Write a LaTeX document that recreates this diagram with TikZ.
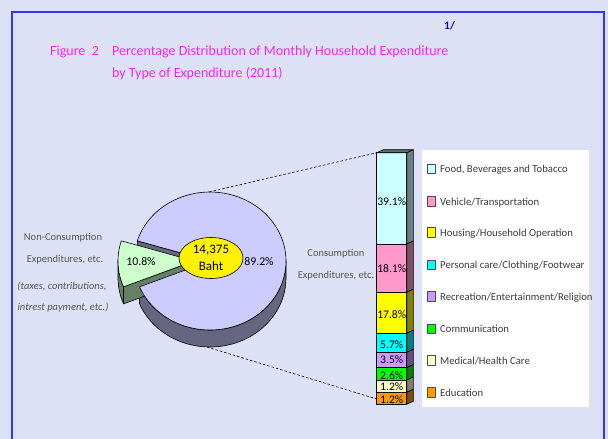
\documentclass[tikz,border=0pt]{standalone}
\usepackage{fontspec}
\setmainfont{Carlito}
\usepackage{tikz}
\usetikzlibrary{shapes.geometric}

\definecolor{paper}{RGB}{221,225,245}
\definecolor{framecol}{RGB}{51,51,255}
\definecolor{titlecol}{RGB}{240,40,240}
\definecolor{notecol}{RGB}{0,0,190}
\definecolor{greytext}{RGB}{85,85,85}
\definecolor{legtext}{RGB}{60,60,60}
\definecolor{pietop}{RGB}{204,204,255}
\definecolor{pieside}{RGB}{102,102,128}
\definecolor{wedgetop}{RGB}{204,255,204}
\definecolor{wedgeside}{RGB}{102,128,102}
\definecolor{foodc}{RGB}{204,255,255}
\definecolor{vehc}{RGB}{255,153,204}
\definecolor{housec}{RGB}{255,255,0}
\definecolor{persc}{RGB}{0,255,255}
\definecolor{recc}{RGB}{204,153,255}
\definecolor{commc}{RGB}{0,255,0}
\definecolor{medc}{RGB}{255,255,204}
\definecolor{educ}{RGB}{255,153,0}

\tikzset{
  edge/.style={draw=black, line width=0.6pt, line join=round},
  titletext/.style={anchor=base west, inner sep=0pt, text=titlecol,
    font=\fontsize{14}{16}\selectfont},
  sidetext/.style={anchor=base, inner sep=0pt, text=greytext,
    font=\fontsize{10.5}{12}\selectfont},
  pielab/.style={inner sep=0pt, font=\fontsize{11.8}{13}\selectfont},
  barlab/.style={inner sep=0pt, font=\fontsize{11.6}{13}\selectfont},
  legbox/.style={edge, line width=0.5pt, draw=black!70},
  legtxt/.style={anchor=base west, inner sep=0pt, text=legtext,
    font=\fontsize{10.7}{12}\selectfont}
}

\begin{document}
\begin{tikzpicture}[x=1pt,y=-1pt]
\fill[paper] (0,0) rectangle (608,439);
\useasboundingbox (0,0) rectangle (608,439);
\draw[framecol, line width=2pt] (11.5,439) -- (11.5,12) -- (603.5,12) -- (603.5,439);

% title
\node[anchor=base west, inner sep=0pt, text=notecol,
  font=\fontsize{11.5}{12}\selectfont\bfseries] (note) at (444,29) {1/};
\node[titletext] (figno) at (50,55) {Figure\ \ 2};
\node[titletext] (title1) at (112,55) {Percentage Distribution of Monthly Household Expenditure};
\node[titletext] (title2) at (112,77.7) {by Type of Expenditure (2011)};

% pie
\def\pieX{210}
\def\pieY{261}
\def\pieRx{76}
\def\pieRy{69}
\def\pieD{17}
\def\cutA{163}
\def\cutB{202}
\def\pull{-16}
\fill[pieside, edge]
  plot[domain=\cutB:360, samples=60] ({\pieX+\pieRx*cos(\x)},{\pieY-\pieRy*sin(\x)})
  -- plot[domain=360:\cutB, samples=60] ({\pieX+\pieRx*cos(\x)},{\pieY+\pieD-\pieRy*sin(\x)})
  -- cycle;
\fill[pieside, edge] (\pieX,\pieY)
  -- ({\pieX+\pieRx*cos(\cutA)},{\pieY-\pieRy*sin(\cutA)})
  -- ({\pieX+\pieRx*cos(\cutA)},{\pieY+\pieD-\pieRy*sin(\cutA)})
  -- (\pieX,\pieY+\pieD) -- cycle;
% pulled slice, sides
\fill[wedgeside, edge]
  plot[domain=180:\cutB, samples=20] ({\pieX+\pull+\pieRx*cos(\x)},{\pieY-\pieRy*sin(\x)})
  -- plot[domain=\cutB:180, samples=20] ({\pieX+\pull+\pieRx*cos(\x)},{\pieY+\pieD-\pieRy*sin(\x)})
  -- cycle;
\fill[wedgeside, edge] (\pieX+\pull,\pieY)
  -- ({\pieX+\pull+\pieRx*cos(\cutB)},{\pieY-\pieRy*sin(\cutB)})
  -- ({\pieX+\pull+\pieRx*cos(\cutB)},{\pieY+\pieD-\pieRy*sin(\cutB)})
  -- (\pieX+\pull,\pieY+\pieD) -- cycle;
% tops
\fill[pietop, edge] (\pieX,\pieY)
  -- plot[domain=\cutB:523, samples=120] ({\pieX+\pieRx*cos(\x)},{\pieY-\pieRy*sin(\x)})
  -- cycle;
\fill[wedgetop, edge] (\pieX+\pull,\pieY)
  -- plot[domain=\cutA:\cutB, samples=20] ({\pieX+\pull+\pieRx*cos(\x)},{\pieY-\pieRy*sin(\x)})
  -- cycle;

\node[ellipse, draw=black, line width=0.6pt, fill=yellow, inner sep=0pt,
  minimum width=64, minimum height=41, align=center,
  font=\fontsize{13}{17}\selectfont] (total) at (211,258) {14,375\\Baht};
\node[pielab] (nonpct) at (141,262) {10.8\%};
\node[pielab] (conpct) at (259,262) {89.2\%};

\coordinate (pietopp) at (209,192);
\coordinate (piebot) at (207,347);

% side texts
\node[sidetext] (non1) at (63,240.7) {Non-Consumption};
\node[sidetext] (non2) at (65,262.7) {Expenditures, etc.};
\node[sidetext, font=\fontsize{10.5}{12}\selectfont\itshape] (non3) at (62,289.3) {(taxes, contributions,};
\node[sidetext, font=\fontsize{10.5}{12}\selectfont\itshape] (non4) at (63,310) {intrest payment, etc.)};
\node[sidetext] (con1) at (336,256.7) {Consumption};
\node[sidetext] (con2) at (336,278.3) {Expenditures, etc.};

% bar
\foreach \ytop/\ybot/\col [count=\i] in {152.7/244/foodc, 244/292.3/vehc,
    292.3/333.3/housec, 333.3/352.3/persc, 352.3/367.7/recc,
    367.7/380/commc, 380/392.3/medc, 392.3/404.3/educ}{
  \fill[\col, edge] (376.7,\ytop) rectangle (406.7,\ybot);
  \fill[\col!50!black, edge] (406.7,\ytop) -- (413.3,{\ytop-3})
    -- (413.3,{\ybot-3}) -- (406.7,\ybot) -- cycle;
}
\fill[foodc!45!black, edge] (376.7,152.7) -- (406.7,152.7) -- (413.3,149.7) -- (383.3,149.7) -- cycle;
\foreach \pct/\ylab [count=\i] in {39.1/201.7, 18.1/269, 17.8/315, 5.7/345,
    3.5/360, 2.6/375.7, 1.2/387, 1.2/399.3}{
  \node[barlab] (seg\i) at (391.7,\ylab) {\pct\%};
}
\coordinate (bartop) at (376.7,152.7);
\coordinate (barbot) at (376.7,399);

\draw[dash pattern=on 2.5pt off 2pt, line width=0.6pt] (pietopp) -- (bartop);
\draw[dash pattern=on 2.5pt off 2pt, line width=0.6pt] (piebot) -- (barbot);

% legend
\fill[white] (421.7,150) rectangle (588.7,406.7);
\foreach \yc/\col/\txt [count=\i] in {169/foodc/{Food, Beverages and Tobacco},
    201.7/vehc/Vehicle\slash Transportation,
    232.7/housec/Housing\slash Household Operation,
    265/persc/Personal care\slash Clothing\slash Footwear,
    296.7/recc/Recreation\slash Entertainment\slash Religion,
    329/commc/Communication,
    360.7/medc/Medical\slash Health Care,
    392.7/educ/Education}{
  \fill[\col, legbox] (427.3,{\yc-5}) rectangle (435.3,{\yc+4.5});
  \node[legtxt] (leg\i) at (440,{\yc+3.5}) {\txt};
}
\end{tikzpicture}
\end{document}
